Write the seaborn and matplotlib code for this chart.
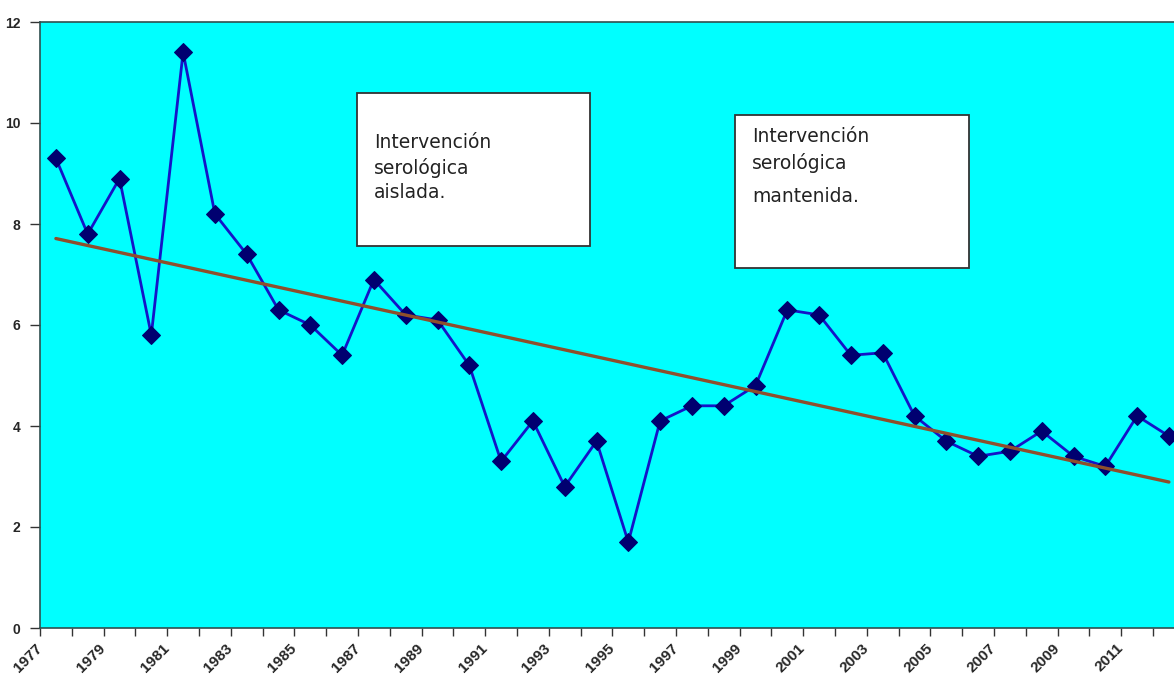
import numpy as np
import pandas as pd
import matplotlib
matplotlib.use("Agg")
import matplotlib.pyplot as plt
import seaborn as sns
from matplotlib.patches import Rectangle
from matplotlib.transforms import ScaledTranslation

# yearly values
years = list(range(1977, 2013))
values = [9.3, 7.8, 8.9, 5.8, 11.4, 8.2, 7.4, 6.3, 6.0, 5.4,
          6.9, 6.2, 6.1, 5.2, 3.3, 4.1, 2.8, 3.7, 1.7, 4.1,
          4.4, 4.4, 4.8, 6.3, 6.2, 5.4, 5.45, 4.2, 3.7, 3.4,
          3.5, 3.9, 3.4, 3.2, 4.2, 3.8]
y_ticks = [0, 2, 4, 6, 8, 10, 12]
label_years = years[::2][:18]  # 1977 .. 2011

box_texts = [
    ["Intervención", "serológica", "aislada."],
    ["Intervención", "serológica", "mantenida."],
]

W, H = 1174, 683


def fx(px):
    return px / W


def fy(py):
    return 1 - py / H


df = pd.DataFrame({"idx": np.arange(len(years)), "year": years, "value": values})

sns.set_style("white")
plt.rcParams["font.family"] = ["DejaVu Sans"]

fig = plt.figure(figsize=(W / 100, H / 100), dpi=100)
fig.patch.set_facecolor("white")
ax = fig.add_axes([fx(40), fy(628), fx(1134), (628 - 22) / H])
ax.set_facecolor("#00FFFF")

sns.lineplot(data=df, x="idx", y="value", ax=ax, color="#1414C8", lw=2.0,
             marker="D", markersize=9, markerfacecolor="#000070",
             markeredgecolor="#000070", zorder=3)
sns.regplot(data=df, x="idx", y="value", ax=ax, scatter=False, ci=None,
            color="#8E4F2C", line_kws=dict(lw=2.4, zorder=4))

ax.set_xlim(-0.5, 35.16)
ax.set_ylim(0, 12)
ax.set_xlabel("")
ax.set_ylabel("")

# y axis
ax.set_yticks(y_ticks)
ax.set_yticklabels([str(v) for v in y_ticks], fontfamily="Liberation Sans",
                   fontweight="bold", fontsize=10)
ax.tick_params(axis="y", which="major", direction="out", length=7, width=1,
               color="#333333", pad=7, left=True)

# x axis: ticks on category boundaries, labels on every other category
ax.set_xticks(np.arange(-0.5, 35, 1))
ax.set_xticklabels([])
ax.tick_params(axis="x", which="major", direction="out", length=6, width=1,
               color="#333333", bottom=True)
label_pos = [years.index(y) for y in label_years]
ax.set_xticks(label_pos, minor=True)
ax.set_xticklabels([str(y) for y in label_years], minor=True,
                   fontfamily="Liberation Sans", fontweight="bold",
                   fontsize=11, rotation=45, ha="right", va="center",
                   rotation_mode="anchor")
ax.tick_params(axis="x", which="minor", length=0, pad=13)
offset = ScaledTranslation(-16 / 100, 0, fig.dpi_scale_trans)
for lab in ax.get_xticklabels(minor=True):
    lab.set_transform(lab.get_transform() + offset)

for side in ["left", "bottom", "top"]:
    ax.spines[side].set_visible(True)
    ax.spines[side].set_color("#2F4F4F")
    ax.spines[side].set_linewidth(1.2)
ax.spines["right"].set_visible(False)

# annotation boxes
boxes = [(357, 93, 590, 246), (735, 115, 969, 268)]
line_y = [[142, 168, 193], [137, 163, 196]]
for (x0, y0, x1, y1), lines, ys in zip(boxes, box_texts, line_y):
    fig.add_artist(Rectangle((fx(x0), fy(y1)), fx(x1 - x0), (y1 - y0) / H,
                             transform=fig.transFigure, facecolor="white",
                             edgecolor="#333333", lw=1.3, zorder=5))
    for txt, yy in zip(lines, ys):
        fig.text(fx(x0 + 17), fy(yy), txt, fontsize=13.5, color="#222222",
                 ha="left", va="center", zorder=6)

fig.savefig("out.png", dpi=100)
